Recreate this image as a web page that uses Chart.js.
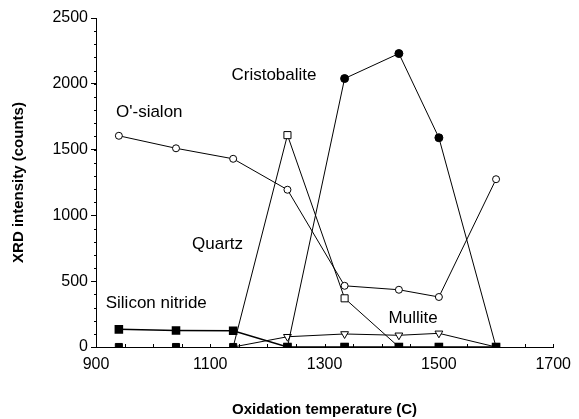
<!DOCTYPE html>
<html>
<head>
<meta charset="utf-8">
<script src="https://cdn.jsdelivr.net/npm/chart.js@4.4.1/dist/chart.umd.min.js"></script>
<style>
  html, body { margin: 0; padding: 0; background: #fff; }
  #chart { display: block; }
</style>
</head>
<body>
<canvas id="chart" width="579" height="419"></canvas>
<script>
const temps = [940, 1040, 1140, 1235, 1335, 1430, 1500, 1600];
const oSialon = [1605, 1510, 1430, 1195, 465, 435, 380, 1275];
const cristobalite = [null, null, null, 0, 2040, 2230, 1590, 0];
const quartz = [null, null, 0, 1610, 370, 0, null, null];
const mullite = [null, null, 0, 78, 99, 89, 104, 0];
const siliconNitride = [134, 126, 124, 0, 0, 0, 0, 0];
const zeroLine = [0, 0, 0, 0, 0, 0, 0, 0];

const xTicks = [900, 1100, 1300, 1500, 1700];
const yTicks = [0, 500, 1000, 1500, 2000, 2500];

// text labels placed in data units (temperature, counts)
const seriesNames = ['Cristobalite', "O'-sialon", 'Quartz', 'Silicon nitride', 'Mullite'];
const nameTemps = [1137, 935, 1068, 917, 1412];
const nameCounts = [2067, 1786, 783, 334, 220];

const FONT = '"Liberation Sans", Arial, sans-serif';

function pts(values) {
  const out = [];
  values.forEach((v, i) => { if (v !== null) out.push({ x: temps[i], y: v }); });
  return out;
}

// zero points are shown by the filled squares of the base row
const hideZero = r => ctx => (ctx.raw && ctx.raw.y === 0 ? 0 : r);

const seriesLabels = {
  id: 'seriesLabels',
  afterDatasetsDraw(chart) {
    const { ctx, scales: { x, y } } = chart;
    ctx.save();
    ctx.font = '17px ' + FONT;
    ctx.fillStyle = '#000';
    ctx.textAlign = 'left';
    ctx.textBaseline = 'middle';
    seriesNames.forEach((name, i) => {
      ctx.fillText(name, x.getPixelForValue(nameTemps[i]), y.getPixelForValue(nameCounts[i]));
    });
    ctx.restore();
  }
};

const minorTicks = {
  id: 'minorTicks',
  afterDraw(chart) {
    const { ctx, chartArea: a, scales: { x, y } } = chart;
    ctx.save();
    ctx.strokeStyle = '#000';
    ctx.lineWidth = 1;
    ctx.beginPath();
    for (let v = 900; v <= 1700; v += 50) {
      const px = Math.round(x.getPixelForValue(v)) + 0.5;
      ctx.moveTo(px, a.bottom);
      ctx.lineTo(px, a.bottom - 3);
    }
    for (let v = 0; v <= 2500; v += 100) {
      const py = Math.round(y.getPixelForValue(v)) + 0.5;
      ctx.moveTo(a.left, py);
      ctx.lineTo(a.left - 2, py);
    }
    ctx.stroke();
    ctx.restore();
  }
};

new Chart(document.getElementById('chart'), {
  type: 'line',
  data: {
    datasets: [
      {
        label: "O'-sialon",
        data: pts(oSialon),
        borderColor: '#000',
        borderWidth: 1,
        pointStyle: 'circle',
        pointRadius: 3.5,
        pointBackgroundColor: '#fff',
        pointBorderColor: '#000',
        pointBorderWidth: 1
      },
      {
        label: 'Cristobalite',
        data: pts(cristobalite),
        borderColor: '#000',
        borderWidth: 1,
        pointStyle: 'circle',
        pointRadius: hideZero(4),
        pointBackgroundColor: '#000',
        pointBorderColor: '#000'
      },
      {
        label: 'Quartz',
        data: pts(quartz),
        borderColor: '#000',
        borderWidth: 1,
        pointStyle: 'rect',
        pointRadius: hideZero(5),
        pointBackgroundColor: '#fff',
        pointBorderColor: '#000',
        pointBorderWidth: 1
      },
      {
        label: 'Mullite',
        data: pts(mullite),
        borderColor: '#000',
        borderWidth: 1,
        pointStyle: 'triangle',
        rotation: 180,
        pointRadius: hideZero(4.5),
        pointBackgroundColor: '#fff',
        pointBorderColor: '#000',
        pointBorderWidth: 1
      },
      {
        label: 'Silicon nitride',
        data: pts(siliconNitride),
        borderColor: '#000',
        borderWidth: 1.5,
        pointStyle: 'rect',
        pointRadius: 5,
        pointBackgroundColor: '#000',
        pointBorderColor: '#000'
      },
      {
        label: 'zero',
        data: pts(zeroLine),
        showLine: false,
        pointStyle: 'rect',
        pointRadius: 5,
        pointBackgroundColor: '#000',
        pointBorderColor: '#000'
      }
    ]
  },
  options: {
    responsive: false,
    animation: false,
    layout: { padding: { left: 0, right: 21, top: 18, bottom: 0 } },
    plugins: {
      legend: { display: false },
      tooltip: { enabled: false }
    },
    scales: {
      x: {
        type: 'linear',
        min: 900,
        max: 1700,
        afterFit: s => { s.height = 72; },
        afterBuildTicks: s => { s.ticks = xTicks.map(v => ({ value: v })); },
        grid: { drawOnChartArea: false, drawTicks: false, color: '#000' },
        border: { color: '#000', width: 1 },
        ticks: {
          padding: 8,
          color: '#000',
          font: { family: FONT, size: 16 },
          maxRotation: 0,
          callback: v => String(v)
        },
        title: {
          display: true,
          text: 'Oxidation temperature (C)',
          color: '#000',
          font: { family: FONT, size: 15, weight: 'bold' },
          padding: { top: 0, bottom: 0 }
        }
      },
      y: {
        min: 0,
        max: 2500,
        afterFit: s => { s.width = 96; },
        afterBuildTicks: s => { s.ticks = yTicks.map(v => ({ value: v })); },
        grid: { drawOnChartArea: false, drawTicks: true, tickLength: 5, color: '#000' },
        border: { color: '#000', width: 1 },
        ticks: {
          padding: 3,
          color: '#000',
          font: { family: FONT, size: 16 },
          callback: v => String(v)
        },
        title: {
          display: true,
          text: 'XRD intensity (counts)',
          color: '#000',
          font: { family: FONT, size: 15, weight: 'bold' },
          padding: { top: 10, bottom: 0 }
        }
      }
    }
  },
  plugins: [seriesLabels, minorTicks]
});
</script>
</body>
</html>
